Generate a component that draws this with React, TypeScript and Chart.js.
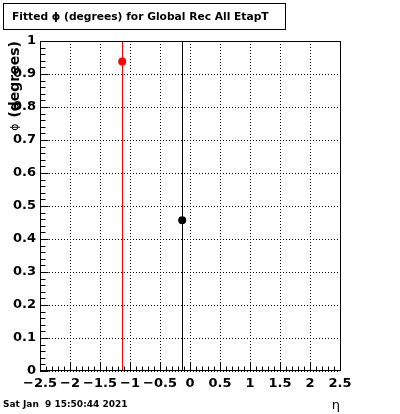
import React, { useEffect, useRef } from "react";
import { Chart, registerables } from "chart.js";
Chart.register(...registerables);

// ---- data ----
const etaValues = [-1.13, -0.13];
const phiValues = [0.938, 0.457];
const phiErrors = [2.0, 2.0];
const pointColors = ["#ff0000", "#000000"];

const xMajorTicks = [-2.5, -2, -1.5, -1, -0.5, 0, 0.5, 1, 1.5, 2, 2.5];
const yMajorTicks = [0, 0.1, 0.2, 0.3, 0.4, 0.5, 0.6, 0.7, 0.8, 0.9, 1];
const xMinorStep = 0.1;
const yMinorStep = 0.02;

const titleText = "Fitted ϕ (degrees) for Global Rec All EtapT";
const yTitleSymbol = "ϕ";
const yTitleText = "(degrees)";
const xTitleText = "η";
const dateText = "Sat Jan  9 15:50:44 2021";

const FONT = "'DejaVu Sans', sans-serif";

function fmt(v: number): string {
  const r = Math.round(v * 100) / 100;
  const s = String(Math.abs(r));
  return r < 0 ? "\u2212" + s : s;
}

const rootPlugin = {
  id: "rootStyle",
  beforeDatasetsDraw(chart: any) {
    const { ctx, chartArea: a, scales } = chart;
    const xs = scales.x;
    const ys = scales.y;
    ctx.save();
    ctx.strokeStyle = "#000";
    ctx.lineWidth = 1;
    ctx.setLineDash([1, 2]);
    for (const v of xMajorTicks) {
      const px = Math.round(xs.getPixelForValue(v)) + 0.5;
      ctx.beginPath();
      ctx.moveTo(px, a.top);
      ctx.lineTo(px, a.bottom);
      ctx.stroke();
    }
    for (const v of yMajorTicks) {
      const py = Math.round(ys.getPixelForValue(v)) + 0.5;
      ctx.beginPath();
      ctx.moveTo(a.left, py);
      ctx.lineTo(a.right, py);
      ctx.stroke();
    }
    ctx.setLineDash([]);
    ctx.beginPath();
    ctx.rect(a.left, a.top, a.right - a.left, a.bottom - a.top);
    ctx.clip();
    for (let i = 0; i < etaValues.length; i++) {
      const px = Math.round(xs.getPixelForValue(etaValues[i])) + 0.5;
      const y1 = ys.getPixelForValue(phiValues[i] - phiErrors[i]);
      const y2 = ys.getPixelForValue(phiValues[i] + phiErrors[i]);
      ctx.strokeStyle = pointColors[i];
      ctx.beginPath();
      ctx.moveTo(px, y1);
      ctx.lineTo(px, y2);
      ctx.stroke();
    }
    ctx.restore();
  },
  afterDraw(chart: any) {
    const { ctx, chartArea: a, scales } = chart;
    const xs = scales.x;
    const ys = scales.y;
    ctx.save();
    ctx.strokeStyle = "#000";
    ctx.lineWidth = 1;
    ctx.strokeRect(a.left + 0.5, a.top + 0.5, a.right - a.left, a.bottom - a.top - 1);
    const bottom = a.bottom - 0.5;
    const nX = Math.round((xMajorTicks[xMajorTicks.length - 1] - xMajorTicks[0]) / xMinorStep);
    for (let i = 0; i <= nX; i++) {
      const v = xMajorTicks[0] + i * xMinorStep;
      const major = i % 5 === 0;
      const px = Math.round(xs.getPixelForValue(v)) + 0.5;
      ctx.beginPath();
      ctx.moveTo(px, bottom);
      ctx.lineTo(px, bottom - (major ? 8 : 4));
      ctx.stroke();
    }
    const left = a.left + 0.5;
    const nY = Math.round((yMajorTicks[yMajorTicks.length - 1] - yMajorTicks[0]) / yMinorStep);
    for (let i = 0; i <= nY; i++) {
      const v = yMajorTicks[0] + i * yMinorStep;
      const major = i % 5 === 0;
      const py = Math.round(ys.getPixelForValue(v)) + 0.5;
      ctx.beginPath();
      ctx.moveTo(left, py);
      ctx.lineTo(left + (major ? 8 : 5), py);
      ctx.stroke();
    }
    // title box
    ctx.fillStyle = "#fff";
    ctx.fillRect(3.5, 3.5, 282, 26);
    ctx.strokeRect(3.5, 3.5, 282, 26);
    ctx.fillStyle = "#000";
    ctx.font = `bold 10.7px ${FONT}`;
    ctx.textAlign = "left";
    ctx.textBaseline = "middle";
    ctx.fillText(titleText, 12, 17);
    // y title
    ctx.save();
    ctx.translate(15, a.top);
    ctx.rotate(-Math.PI / 2);
    ctx.textAlign = "right";
    ctx.textBaseline = "middle";
    ctx.font = `bold 14px ${FONT}`;
    const w2 = ctx.measureText(yTitleText).width;
    ctx.fillText(yTitleText, 0, 0);
    ctx.font = `11px ${FONT}`;
    ctx.fillText(yTitleSymbol, -w2 - 6, 0);
    ctx.restore();
    // x title
    ctx.font = `13px ${FONT}`;
    ctx.textAlign = "right";
    ctx.textBaseline = "middle";
    ctx.fillText(xTitleText, a.right, 406);
    // date
    ctx.font = `bold 9px ${FONT}`;
    ctx.textAlign = "left";
    ctx.fillText(dateText, 3, 405);
    ctx.restore();
  },
};

export default function App() {
  const ref = useRef<HTMLCanvasElement | null>(null);
  useEffect(() => {
    document.body.style.margin = "0";
    const canvas = ref.current!;
    const chart = new Chart(canvas, {
      type: "scatter",
      data: {
        datasets: [
          {
            data: etaValues.map((x, i) => ({ x, y: phiValues[i] })),
            backgroundColor: pointColors,
            borderColor: pointColors,
            pointRadius: 4,
            pointBorderWidth: 0,
          },
        ],
      },
      options: {
        animation: false,
        responsive: false,
        devicePixelRatio: 1,
        layout: { padding: { top: 41, right: 60, left: 0, bottom: 0 } },
        plugins: { legend: { display: false }, tooltip: { enabled: false } },
        scales: {
          x: {
            type: "linear",
            min: -2.5,
            max: 2.5,
            grid: { display: false, drawTicks: false },
            border: { display: false },
            afterFit: (s: any) => {
              s.height = 43;
            },
            ticks: {
              stepSize: 0.5,
              autoSkip: false,
              maxRotation: 0,
              minRotation: 0,
              padding: 5,
              color: "#000",
              font: { family: FONT, weight: "bold", size: 13 },
              callback: (v: any) => fmt(Number(v)),
            },
          },
          y: {
            type: "linear",
            min: 0,
            max: 1,
            grid: { display: false, drawTicks: false },
            border: { display: false },
            afterFit: (s: any) => {
              s.width = 40;
            },
            ticks: {
              stepSize: 0.1,
              autoSkip: false,
              padding: 4,
              color: "#000",
              font: { family: FONT, weight: "bold", size: 13 },
              callback: (v: any) => fmt(Number(v)),
            },
          },
        },
      },
      plugins: [rootPlugin],
    } as any);
    return () => chart.destroy();
  }, []);
  return (
    <div style={{ width: 400, height: 414, background: "#fff" }}>
      <canvas ref={ref} width={400} height={414} style={{ display: "block" }} />
    </div>
  );
}
